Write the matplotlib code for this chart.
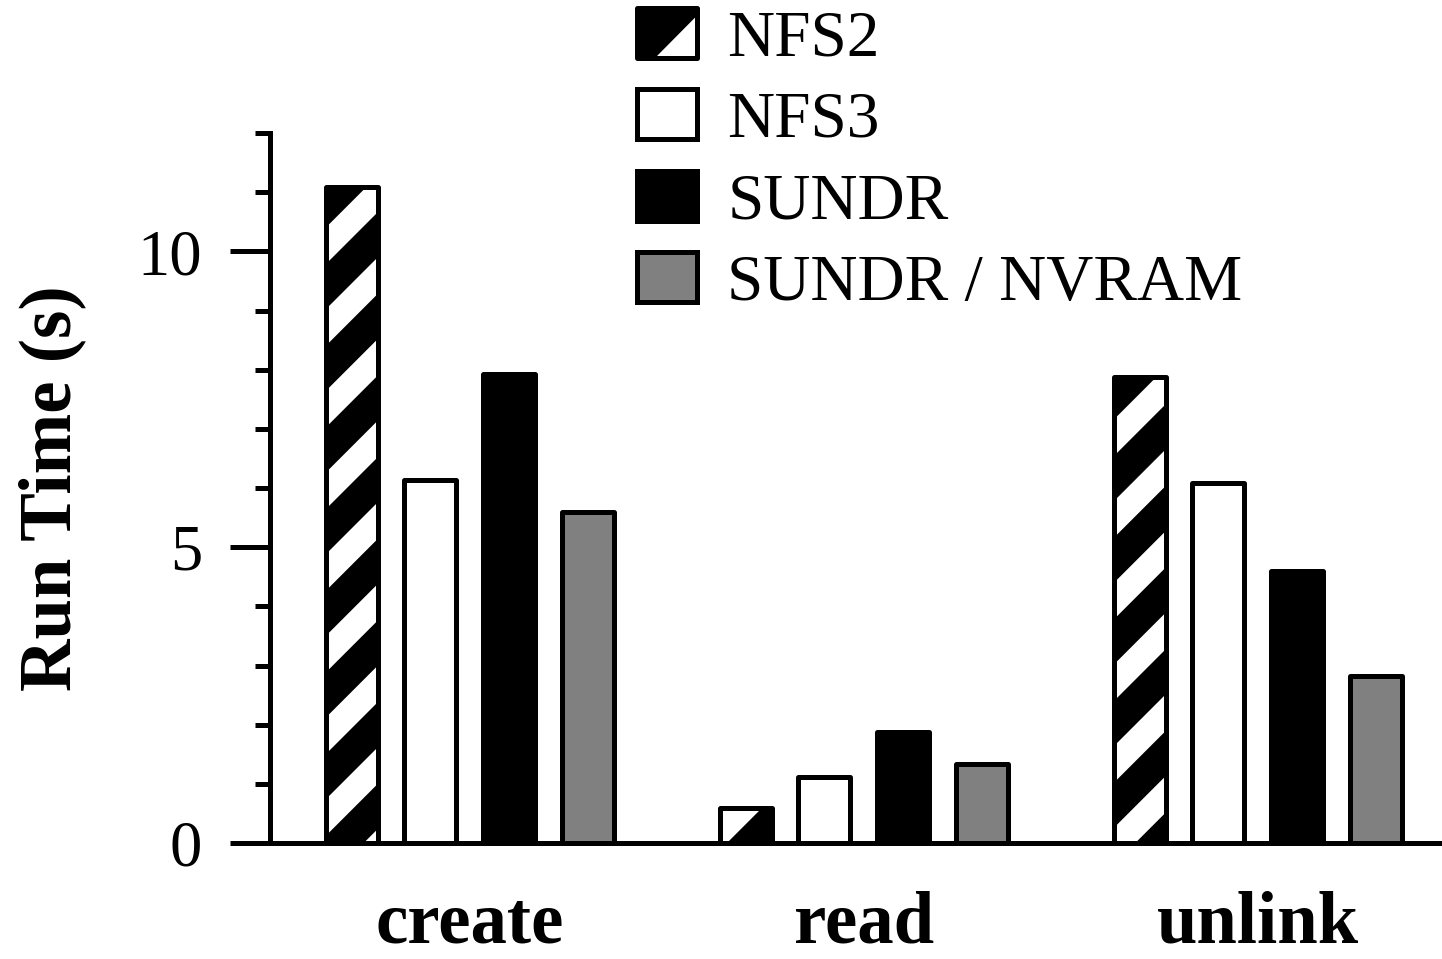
import matplotlib
matplotlib.use("Agg")
import matplotlib.pyplot as plt
from matplotlib.legend_handler import HandlerBase
from matplotlib.patches import Rectangle, Polygon
from matplotlib.ticker import MultipleLocator
import numpy as np

# data
categories = ["create", "read", "unlink"]
systems = ["NFS2", "NFS3", "SUNDR", "SUNDR / NVRAM"]
nfs2 = [11.08, 0.60, 7.87]
nfs3 = [6.14, 1.11, 6.08]
sundr = [7.92, 1.88, 4.59]
nvram = [5.59, 1.33, 2.83]
yticks = [0, 5, 10]

DPI = 490  # big dpi so the '//' hatch comes out as wide stripes
W, H = 1442, 959
LW = 5 / DPI * 72

plt.rcParams["font.family"] = ["Liberation Serif", "DejaVu Serif"]
plt.rcParams["hatch.linewidth"] = 3.8
plt.rcParams["hatch.color"] = "white"

fig = plt.figure(figsize=(W / DPI, H / DPI), dpi=DPI)
ax = fig.add_axes([270 / W, 116 / H, 1 - 270 / W, 710 / H])

groups = np.arange(len(categories)) * 5.0
width = 0.66
offsets = [-1.5, -0.5, 0.5, 1.5]

# NFS2: black bar with white stripes, then the black outline on top
ax.bar(groups + offsets[0], nfs2, width, color="black", edgecolor="white",
       hatch="//", linewidth=0, zorder=2)
ax.bar(groups + offsets[0], nfs2, width, fill=False, edgecolor="black",
       linewidth=LW, joinstyle="round", zorder=3)
ax.bar(groups + offsets[1], nfs3, width, color="white", edgecolor="black",
       linewidth=LW, joinstyle="round", zorder=2)
ax.bar(groups + offsets[2], sundr, width, color="black", edgecolor="black",
       linewidth=LW, joinstyle="round", zorder=2)
ax.bar(groups + offsets[3], nvram, width, color="#808080", edgecolor="black",
       linewidth=LW, joinstyle="round", zorder=2)

ax.set_xlim((270 - 469.8) / 78.8, (1442 - 469.8) / 78.8)
ax.set_ylim(0, 12)

for s in ["top", "right"]:
    ax.spines[s].set_visible(False)
ax.spines["left"].set_linewidth(LW)
ax.spines["bottom"].set_linewidth(LW)
ax.spines["bottom"].set_zorder(4)

ax.set_yticks(yticks)
ax.yaxis.set_minor_locator(MultipleLocator(1))
ax.tick_params(axis="y", which="major", length=40 / DPI * 72, width=LW,
               labelsize=9.5, pad=4.1)
ax.tick_params(axis="y", which="minor", length=15 / DPI * 72, width=LW)

ax.set_xticks(groups)
ax.set_xticklabels(categories, fontsize=10.7, fontweight="bold")
ax.tick_params(axis="x", length=0, pad=7.0)

ax.set_ylabel("Run Time (s)", fontsize=10.7, fontweight="bold")
ax.yaxis.set_label_coords((86 - 270) / (W - 270), 0.5)


class HalfHandler(HandlerBase):
    def create_artists(self, legend, orig, xd, yd, w, h, fontsize, trans):
        x0, y0 = -xd, -yd
        box = Rectangle((x0, y0), w, h, facecolor="white", edgecolor="black",
                        linewidth=LW, joinstyle="round", transform=trans)
        tri = Polygon([(x0, y0), (x0, y0 + h), (x0 + w, y0 + h),
                       (x0 + w, y0 + 0.85 * h), (x0 + 0.3 * w, y0)],
                      closed=True, facecolor="black", edgecolor="none",
                      transform=trans)
        return [box, tri]


handles = [
    Rectangle((0, 0), 1, 1, facecolor="black", edgecolor="black"),
    Rectangle((0, 0), 1, 1, facecolor="white", edgecolor="black", linewidth=LW),
    Rectangle((0, 0), 1, 1, facecolor="black", edgecolor="black", linewidth=LW),
    Rectangle((0, 0), 1, 1, facecolor="#808080", edgecolor="black", linewidth=LW),
]
for hd in handles[1:]:
    hd.set_joinstyle("round")

fig.legend(handles, systems, loc="upper left",
           bbox_to_anchor=(637 / W, 1 - 8 / H), frameon=False, fontsize=9.6,
           handlelength=0.92, handleheight=0.8, handletextpad=0.46,
           labelspacing=0.3, borderpad=0, borderaxespad=0,
           handler_map={handles[0]: HalfHandler()})

fig.savefig("out.png", dpi=DPI)
